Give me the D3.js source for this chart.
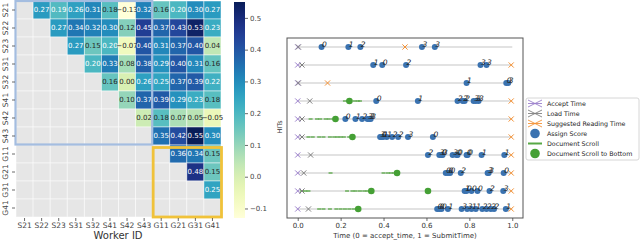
<!DOCTYPE html>
<html>
<head>
<meta charset="utf-8">
<script src="https://cdn.jsdelivr.net/npm/d3@7"></script>
<style>
body { margin: 0; background: #fff; }
svg { display: block; font-family: "DejaVu Sans", sans-serif; }
</style>
</head>
<body>
<svg id="chart" width="640" height="241"></svg>
<script>
// ---- heatmap data ----
var workers = ["S21","S22","S23","S31","S32","S41","S42","S43","G11","G21","G31","G41"];
// upper triangle: row i holds the values for columns i+1 .. 11
var corrRows = [
  [0.27,0.19,0.26,0.31,0.18,-0.13,0.32,0.16,0.20,0.30,0.27],
  [0.27,0.34,0.32,0.30,0.12,0.45,0.37,0.43,0.53,0.23],
  [0.27,0.15,0.20,-0.07,0.40,0.31,0.37,0.40,0.04],
  [0.20,0.33,0.08,0.38,0.29,0.40,0.31,0.16],
  [0.16,0.00,0.26,0.25,0.37,0.39,0.22],
  [0.10,0.37,0.39,0.29,0.23,0.18],
  [0.02,0.18,0.07,0.05,-0.05],
  [0.35,0.42,0.55,0.30],
  [0.36,0.34,0.15],
  [0.48,0.15],
  [0.25],
  []
];
var colorTicks = [-0.1, 0.0, 0.1, 0.2, 0.3, 0.4, 0.5];

// ---- HIT timeline data (0 = accept_time, 1 = SubmitTime) ----
var hits = [0,1,2,3,4,5,6,7,8,9];
var acceptTimes = [0,0,0,0,0,0,0,0,0,0];
var loadTimes = [0.003,0.02,0.003,0.056,0.02,0.02,0.06,0.028,0.02,0.05];
var readTimes = [0.5,0.995,0.139,0.995,0.995,0.995,0.995,0.995,0.995,0.995];
var scoreTimes = [
  [0.111,0.236,0.292,0.579,0.639],
  [0.352,0.394,0.505,0.852,0.88],
  [0.787,0.972,0.981],
  [0.366,0.56,0.745,0.769,0.778,0.82,0.83,0.843],
  [0.222,0.269,0.30,0.325,0.333,0.34],
  [0.384,0.39,0.398,0.415,0.44,0.468,0.514,0.63],
  [0.607,0.66,0.67,0.675,0.722,0.74,0.745,0.787,0.792,0.857,0.963],
  [0.69,0.70,0.71,0.76,0.885,0.89,0.96],
  [0.778,0.787,0.81,0.838,0.894,0.958],
  [0.65,0.66,0.67,0.70,0.764,0.79,0.81,0.83,0.86,0.88,0.90,0.915,0.97]
];
var scoreLabels = [
  [0,1,2,3,3],
  [1,0,2,3,3],
  [1,0,3],
  [0,1,2,2,2,3,3,3],
  [0,1,2,3,3,3],
  [3,0,1,1,2,2,3,0],
  [2,3,0,3,3,0,0,0,0,1,1],
  [0,0,0,2,3,3,0],
  [1,0,0,0,2,3],
  [0,0,0,1,3,3,1,1,2,2,2,2,1]
];
var scrollTimes = [
  [], [], [],
  [0.22,0.235,0.265,0.28,0.29],
  [0.06,0.09,0.105,0.13,0.145,0.165],
  [0.05,0.07,0.1,0.12,0.15,0.17,0.185,0.2,0.215,0.24],
  [],
  [0.153,0.40,0.42,0.435,0.45],
  [0.02,0.035,0.05,0.23,0.255,0.27,0.29,0.31,0.325],
  [0.1,0.12,0.15,0.18,0.2,0.22,0.24,0.26]
];
var bottomTimes = [[],[],[],[0.241],[0.176],[0.255],[],[0.463],[0.343,0.607],[0.282]];
var xTicks = [0, 0.2, 0.4, 0.6, 0.8, 1.0];
var legendNames = ["Accept Time","Load Time","Suggested Reading Time","Assign Score","Document Scroll","Document Scroll to Bottom"];

var svg = d3.select("#chart");

// ================= heatmap =================
var xs = d3.scaleBand().domain(workers).range([16, 221]);
var ys = d3.scaleBand().domain(workers).range([1, 217]);
var color = d3.scaleSequential(d3.interpolateYlGnBu).domain([-0.13, 0.55]);

function lum(c) {
  var rgb = d3.rgb(c);
  var f = function (v) { v = v / 255; return v <= 0.03928 ? v / 12.92 : Math.pow((v + 0.055) / 1.055, 2.4); };
  return 0.2126 * f(rgb.r) + 0.7152 * f(rgb.g) + 0.0722 * f(rgb.b);
}

var cells = [];
workers.forEach(function (r, i) {
  workers.forEach(function (c, j) {
    var v = j > i ? corrRows[i][j - i - 1] : null;
    cells.push({ row: r, col: c, v: v });
  });
});

var hm = svg.append("g");
hm.selectAll("rect.cell").data(cells).enter().append("rect")
  .attr("x", function (d) { return xs(d.col); })
  .attr("y", function (d) { return ys(d.row); })
  .attr("width", xs.bandwidth())
  .attr("height", ys.bandwidth())
  .attr("fill", function (d) { return d.v === null ? "#e6e6e6" : color(d.v); })
  .attr("stroke", "#fff").attr("stroke-opacity", 0.6).attr("stroke-width", 0.8);

hm.selectAll("text.val").data(cells.filter(function (d) { return d.v !== null; })).enter().append("text")
  .attr("x", function (d) { return xs(d.col) + xs.bandwidth() / 2; })
  .attr("y", function (d) { return ys(d.row) + ys.bandwidth() / 2; })
  .attr("dy", "0.35em").attr("text-anchor", "middle")
  .style("font-size", "7px")
  .attr("fill", function (d) { return lum(color(d.v)) > 0.408 ? "#262626" : "#fff"; })
  .text(function (d) { return d3.format(".2f")(d.v); });

// highlight boxes
hm.append("rect").attr("x", xs("S21") - 0.5).attr("y", ys("S21"))
  .attr("width", xs("G11") - xs("S21")).attr("height", ys("G11") - ys("S21") - 0.5)
  .attr("fill", "none").attr("stroke", "#a4bde0").attr("stroke-width", 2.2);
hm.append("rect").attr("x", xs("G11") + 0.5).attr("y", ys("G11") + 2.5)
  .attr("width", 221 - xs("G11")).attr("height", 217 - ys("G11") - 2.5)
  .attr("fill", "none").attr("stroke", "#f0c23a").attr("stroke-width", 2.8);

// axes
var hx = hm.append("g").attr("transform", "translate(0,218)")
  .call(d3.axisBottom(xs).tickSize(3).tickPadding(2));
var hy = hm.append("g").attr("transform", "translate(15,0)")
  .call(d3.axisLeft(ys).tickSize(3).tickPadding(2));
[hx, hy].forEach(function (g) {
  g.select(".domain").remove();
  g.selectAll(".tick line").attr("stroke", "#444").attr("stroke-width", 0.8);
  g.selectAll(".tick text").attr("fill", "#444").style("font-size", "7.5px").style("font-family", "DejaVu Sans");
});
hy.selectAll(".tick text").attr("transform", "rotate(-90)").attr("x", 0).attr("y", -7)
  .attr("dy", "0").attr("text-anchor", "middle");
hm.append("text").attr("x", 118).attr("y", 239).attr("text-anchor", "middle")
  .attr("fill", "#333").style("font-size", "10px").text("Worker ID");

// colorbar
var cbY = d3.scaleLinear().domain([-0.13, 0.55]).range([218, 2]);
var defs = svg.append("defs");
var grad = defs.append("linearGradient").attr("id", "cb").attr("x1", 0).attr("y1", 1).attr("x2", 0).attr("y2", 0);
d3.range(0, 1.0001, 0.05).forEach(function (t) {
  grad.append("stop").attr("offset", t).attr("stop-color", color(-0.13 + t * 0.68));
});
svg.append("rect").attr("x", 234).attr("y", 2).attr("width", 11).attr("height", 216).attr("fill", "url(#cb)");
var cbAxis = svg.append("g").attr("transform", "translate(245,0)")
  .call(d3.axisRight(cbY).tickValues(colorTicks).tickSize(3).tickPadding(2)
    .tickFormat(function (d) { return d3.format(".1f")(d).replace("-", "\u2212"); }));
cbAxis.select(".domain").remove();
cbAxis.selectAll(".tick line").attr("stroke", "#444").attr("stroke-width", 0.8);
cbAxis.selectAll(".tick text").attr("fill", "#444").style("font-size", "7px").style("font-family", "DejaVu Sans");

// ================= timeline =================
var tx = d3.scaleLinear().domain([-0.05, 1.05]).range([287, 523]);
var ty = d3.scaleLinear().domain([-0.5, 9.5]).range([38, 218]);
var tl = svg.append("g");

tl.selectAll("line.row").data(hits).enter().append("line")
  .attr("x1", tx(0)).attr("x2", tx(1))
  .attr("y1", function (d) { return ty(d); }).attr("y2", function (d) { return ty(d); })
  .attr("stroke", "#e2e2e2").attr("stroke-width", 1.8);

function xMark(sel, times, col) {
  sel.selectAll(null).data(times.map(function (t, i) { return { t: t, h: hits[i] }; })).enter().append("path")
    .attr("d", function (d) {
      var x = tx(d.t), y = ty(d.h), s = 2.6;
      return "M" + (x - s) + "," + (y - s) + "L" + (x + s) + "," + (y + s) + "M" + (x - s) + "," + (y + s) + "L" + (x + s) + "," + (y - s);
    })
    .attr("stroke", col).attr("stroke-width", 1).attr("fill", "none");
}

// document scroll dashes
var scrollPts = [];
scrollTimes.forEach(function (arr, i) { arr.forEach(function (t) { scrollPts.push({ t: t, h: hits[i] }); }); });
tl.selectAll("line.scroll").data(scrollPts).enter().append("line")
  .attr("x1", function (d) { return tx(d.t) - 2; }).attr("x2", function (d) { return tx(d.t) + 2; })
  .attr("y1", function (d) { return ty(d.h); }).attr("y2", function (d) { return ty(d.h); })
  .attr("stroke", "#57a845").attr("stroke-width", 1.3);

xMark(tl, acceptTimes, "#9b7fcc");
xMark(tl, loadTimes, "#808080");
xMark(tl, readTimes, "#f39237");

var bottomPts = [];
bottomTimes.forEach(function (arr, i) { arr.forEach(function (t) { bottomPts.push({ t: t, h: hits[i] }); }); });
tl.selectAll("circle.bottom").data(bottomPts).enter().append("circle")
  .attr("cx", function (d) { return tx(d.t); }).attr("cy", function (d) { return ty(d.h); })
  .attr("r", 3.3).attr("fill", "#45a035");

var scorePts = [];
scoreTimes.forEach(function (arr, i) { arr.forEach(function (t, k) { scorePts.push({ t: t, h: hits[i], s: scoreLabels[i][k] }); }); });
tl.selectAll("circle.score").data(scorePts).enter().append("circle")
  .attr("cx", function (d) { return tx(d.t); }).attr("cy", function (d) { return ty(d.h); })
  .attr("r", 3).attr("fill", "#3a72b0");
tl.selectAll("text.score").data(scorePts).enter().append("text")
  .attr("x", function (d) { return tx(d.t) + 0.5; }).attr("y", function (d) { return ty(d.h) - 0.5; })
  .attr("fill", "#222").style("font-size", "7.5px").style("font-style", "italic")
  .text(function (d) { return d.s; });

// frame and axes
tl.append("rect").attr("x", 287).attr("y", 38).attr("width", 236).attr("height", 180)
  .attr("fill", "none").attr("stroke", "#555").attr("stroke-width", 1);
var tAxis = tl.append("g").attr("transform", "translate(0,218)")
  .call(d3.axisBottom(tx).tickValues(xTicks).tickSize(3).tickPadding(2).tickFormat(d3.format(".1f")));
tAxis.select(".domain").remove();
tAxis.selectAll(".tick line").attr("stroke", "#444").attr("stroke-width", 0.8);
tAxis.selectAll(".tick text").attr("fill", "#333").style("font-size", "7px").style("font-family", "DejaVu Sans");
tl.append("text").attr("x", 405).attr("y", 238).attr("text-anchor", "middle")
  .attr("fill", "#333").style("font-size", "7px").text("Time (0 = accept_time, 1 = SubmitTime)");
tl.append("text").attr("transform", "translate(282,127) rotate(-90)").attr("text-anchor", "middle")
  .attr("fill", "#333").style("font-size", "6.5px").text("HITs");

// legend
var lg = svg.append("g").attr("transform", "translate(526,98)");
lg.append("rect").attr("width", 113).attr("height", 62).attr("rx", 2)
  .attr("fill", "#fff").attr("stroke", "#ccc").attr("stroke-width", 0.8);
var legColors = ["#9b7fcc", "#808080", "#f39237", "#3a72b0", "#57a845", "#45a035"];
legendNames.forEach(function (name, i) {
  var y = 5.5 + i * 10, g = lg.append("g");
  if (i < 3) {
    g.append("path").attr("d", "M2," + (y - 3.5) + "L16," + (y + 3.5) + "M2," + (y + 3.5) + "L16," + (y - 3.5) + "M2," + y + "L16," + y)
      .attr("stroke", legColors[i]).attr("stroke-width", 0.9).attr("fill", "none");
  } else if (i === 4) {
    g.append("line").attr("x1", 2).attr("x2", 16).attr("y1", y).attr("y2", y)
      .attr("stroke", legColors[i]).attr("stroke-width", 2);
  } else {
    g.append("circle").attr("cx", 9).attr("cy", y).attr("r", 4.8).attr("fill", legColors[i]);
  }
  g.append("text").attr("x", 21).attr("y", y).attr("dy", "0.35em")
    .attr("fill", "#222").style("font-size", "6.3px").text(name);
});
</script>
</body>
</html>
